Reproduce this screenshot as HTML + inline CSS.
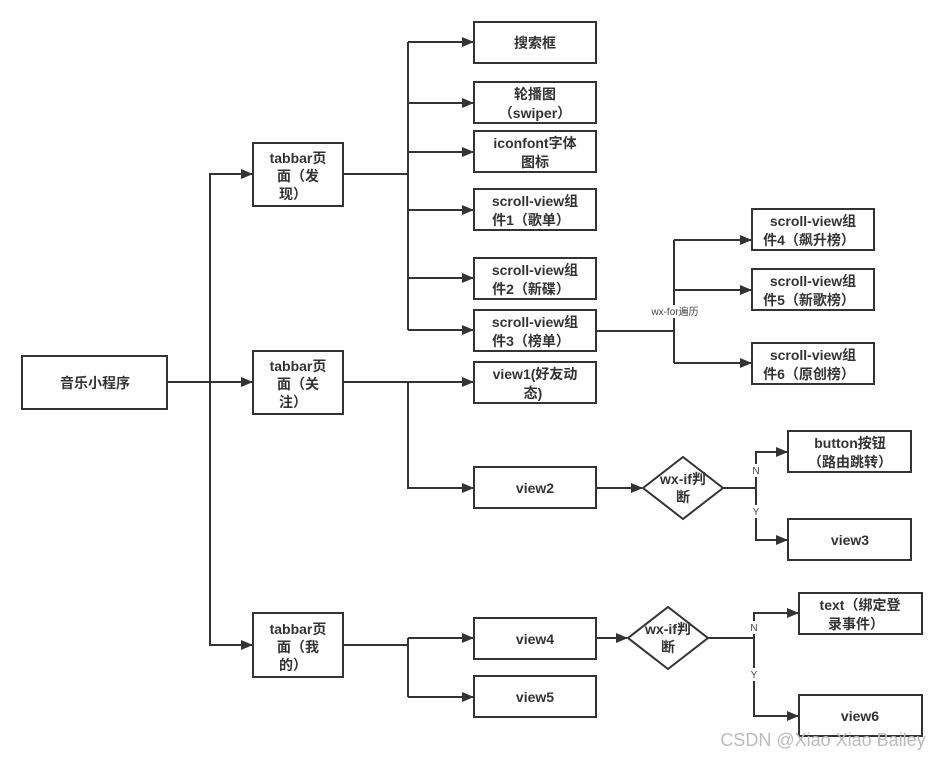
<!DOCTYPE html>
<html><head><meta charset="utf-8"><style>
html,body{margin:0;padding:0;background:#fff;}
svg{display:block;}
.t{font-family:"Liberation Sans","Noto Sans CJK SC",sans-serif;font-weight:bold;font-size:14px;fill:#333;text-anchor:middle;}
.s{font-family:"Liberation Sans","Noto Sans CJK SC",sans-serif;font-size:10px;fill:#444;text-anchor:middle;}
</style></head><body>
<svg width="944" height="758" viewBox="0 0 944 758" xmlns="http://www.w3.org/2000/svg">
<defs><marker id="a" markerWidth="12" markerHeight="10" refX="11" refY="5" orient="auto" markerUnits="userSpaceOnUse"><path d="M0,0 L12,5 L0,10 z" fill="#333"/></marker></defs>
<g fill="none" stroke="#333" stroke-width="2">
<rect x="22" y="356" width="145" height="53"/>
<rect x="253" y="143" width="90" height="63"/>
<rect x="253" y="351" width="90" height="63"/>
<rect x="253" y="613" width="90" height="64"/>
<rect x="474" y="22" width="122" height="41"/>
<rect x="474" y="82" width="122" height="41"/>
<rect x="474" y="131" width="122" height="41"/>
<rect x="474" y="189" width="122" height="41"/>
<rect x="474" y="258" width="122" height="41"/>
<rect x="474" y="310" width="122" height="41"/>
<rect x="474" y="362" width="122" height="41"/>
<rect x="474" y="467" width="122" height="41"/>
<rect x="474" y="618" width="122" height="41"/>
<rect x="474" y="676" width="122" height="41"/>
<rect x="752" y="209" width="122" height="41"/>
<rect x="752" y="269" width="122" height="41"/>
<rect x="752" y="343" width="122" height="41"/>
<rect x="788" y="431" width="123" height="41"/>
<rect x="788" y="519" width="123" height="41"/>
<rect x="799" y="593" width="123" height="41"/>
<rect x="799" y="695" width="123" height="41"/>
<path d="M643,488 L683,457 L723,488 L683,519 Z"/>
<path d="M628,638 L668,607 L708,638 L668,669 Z"/>
<path d="M167,382 H252" marker-end="url(#a)"/>
<path d="M210,382 V174 H252" marker-end="url(#a)"/>
<path d="M210,382 V645 H252" marker-end="url(#a)"/>
<path d="M343,174 H408"/>
<path d="M408,42 V330"/>
<path d="M408,42 H473" marker-end="url(#a)"/>
<path d="M408,103 H473" marker-end="url(#a)"/>
<path d="M408,152 H473" marker-end="url(#a)"/>
<path d="M408,210 H473" marker-end="url(#a)"/>
<path d="M408,278 H473" marker-end="url(#a)"/>
<path d="M408,330 H473" marker-end="url(#a)"/>
<path d="M596,331 H674"/>
<path d="M674,240 V363"/>
<path d="M674,240 H751" marker-end="url(#a)"/>
<path d="M674,290 H751" marker-end="url(#a)"/>
<path d="M674,363 H751" marker-end="url(#a)"/>
<path d="M343,382 H473" marker-end="url(#a)"/>
<path d="M408,382 V488 H473" marker-end="url(#a)"/>
<path d="M596,488 H642" marker-end="url(#a)"/>
<path d="M723,488 H756"/>
<path d="M756,488 V452 H787" marker-end="url(#a)"/>
<path d="M756,488 V540 H787" marker-end="url(#a)"/>
<path d="M343,645 H408"/>
<path d="M408,638 V697"/>
<path d="M408,638 H473" marker-end="url(#a)"/>
<path d="M408,697 H473" marker-end="url(#a)"/>
<path d="M596,638 H627" marker-end="url(#a)"/>
<path d="M708,638 H754"/>
<path d="M754,638 V613 H798" marker-end="url(#a)"/>
<path d="M754,638 V716 H798" marker-end="url(#a)"/>
</g>
<rect x="644" y="305" width="62" height="13" fill="#fff"/>
<rect x="750" y="464" width="12" height="13" fill="#fff"/>
<rect x="750" y="505" width="12" height="13" fill="#fff"/>
<rect x="748" y="621" width="12" height="13" fill="#fff"/>
<rect x="748" y="668" width="12" height="13" fill="#fff"/>
<text class="s" x="675" y="315">wx-for遍历</text>
<text class="s" x="756" y="474">N</text>
<text class="s" x="756" y="515">Y</text>
<text class="s" x="754" y="631">N</text>
<text class="s" x="754" y="678">Y</text>
<text class="t" x="95" y="388">音乐小程序</text>
<text class="t" x="298" y="163">tabbar页</text><text class="t" x="298" y="181">面（发</text><text class="t" x="293" y="199">现）</text>
<text class="t" x="298" y="371">tabbar页</text><text class="t" x="298" y="389">面（关</text><text class="t" x="293" y="407">注）</text>
<text class="t" x="298" y="634">tabbar页</text><text class="t" x="298" y="652">面（我</text><text class="t" x="293" y="670">的）</text>
<text class="t" x="535" y="48">搜索框</text>
<text class="t" x="535" y="99">轮播图</text><text class="t" x="535" y="118">（swiper）</text>
<text class="t" x="535" y="148">iconfont字体</text><text class="t" x="535" y="167">图标</text>
<text class="t" x="535" y="206">scroll-view组</text><text class="t" x="531" y="225">件1（歌单）</text>
<text class="t" x="535" y="275">scroll-view组</text><text class="t" x="531" y="294">件2（新碟）</text>
<text class="t" x="535" y="327">scroll-view组</text><text class="t" x="531" y="346">件3（榜单）</text>
<text class="t" x="535" y="379">view1(好友动</text><text class="t" x="533" y="398">态)</text>
<text class="t" x="535" y="493">view2</text>
<text class="t" x="535" y="644">view4</text>
<text class="t" x="535" y="702">view5</text>
<text class="t" x="813" y="226">scroll-view组</text><text class="t" x="809" y="245">件4（飙升榜）</text>
<text class="t" x="813" y="286">scroll-view组</text><text class="t" x="809" y="305">件5（新歌榜）</text>
<text class="t" x="813" y="360">scroll-view组</text><text class="t" x="809" y="379">件6（原创榜）</text>
<text class="t" x="850" y="448">button按钮</text><text class="t" x="850" y="467">（路由跳转）</text>
<text class="t" x="850" y="545">view3</text>
<text class="t" x="860" y="610">text（绑定登</text><text class="t" x="856" y="629">录事件）</text>
<text class="t" x="860" y="721">view6</text>
<text class="t" x="683" y="484">wx-if判</text><text class="t" x="683" y="502">断</text>
<text class="t" x="668" y="634">wx-if判</text><text class="t" x="668" y="652">断</text>
<text x="823" y="746" style="font-family:'Liberation Sans',sans-serif;font-size:18px;fill:#bbb;text-anchor:middle;">CSDN @Xiao Xiao Bailey</text>
</svg>
</body></html>
